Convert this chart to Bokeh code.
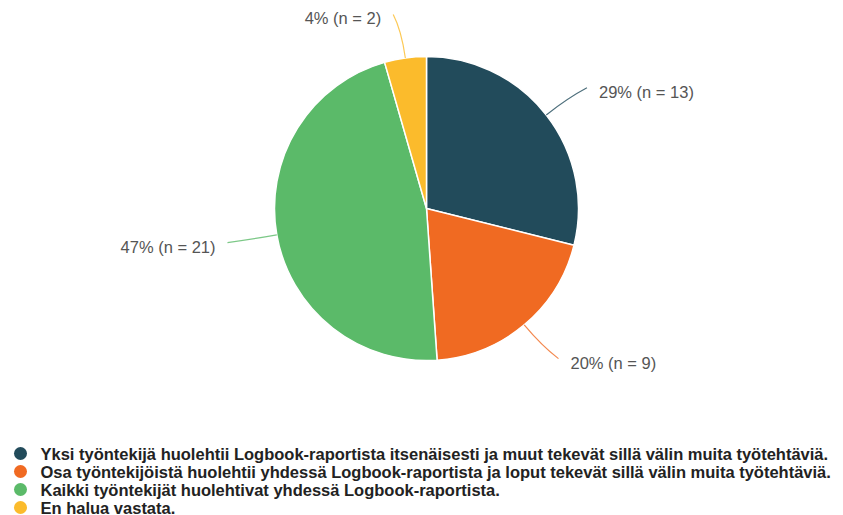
import math
from bokeh.plotting import figure
from bokeh.models import Range1d
from bokeh.core.properties import value
from bokeh.embed import file_html
from bokeh.resources import INLINE

# Survey answers: who takes care of the Logbook report
categories = [
    "Yksi työntekijä huolehtii Logbook-raportista itsenäisesti ja muut tekevät sillä välin muita työtehtäviä.",
    "Osa työntekijöistä huolehtii yhdessä Logbook-raportista ja loput tekevät sillä välin muita työtehtäviä.",
    "Kaikki työntekijät huolehtivat yhdessä Logbook-raportista.",
    "En halua vastata.",
]
counts = [13, 9, 21, 2]
colors = ["#224b5b", "#f06a22", "#5bba69", "#fbbb2c"]

W, H = 843, 515
CX, CY = 426, H - 208   # pie centre (y axis points up)
R = 152

p = figure(width=W, height=H, output_backend="svg", toolbar_location=None,
           x_range=Range1d(0, W), y_range=Range1d(0, H), min_border=0)
p.axis.visible = False
p.grid.visible = False
p.outline_line_color = None
p.background_fill_color = "white"
p.border_fill_color = "white"

total = sum(counts)
label_font = value("Liberation Sans")


def direction(theta_deg):
    # clockwise angle measured from 12 o'clock -> unit vector
    t = math.radians(theta_deg)
    return math.sin(t), math.cos(t)


cum = 0.0
for cat, n, col in zip(categories, counts, colors):
    frac = n / total
    a0 = 90 - 360 * (cum + frac)
    a1 = 90 - 360 * cum
    p.wedge(x=CX, y=CY, radius=R, start_angle=math.radians(a0),
            end_angle=math.radians(a1), fill_color=col,
            line_color="white", line_width=1.5)

    mid = 360 * (cum + frac / 2)
    dx, dy = direction(mid)
    side = 1 if dx >= 0 else -1
    x0, y0 = CX + R * dx, CY + R * dy
    xc, yc = CX + (R + 28) * dx, CY + (R + 28) * dy
    x1, y1 = CX + (R + 44) * dx + 6 * side, CY + (R + 44) * dy
    p.quadratic(x0=[x0], y0=[y0], x1=[x1], y1=[y1], cx=[xc], cy=[yc],
                line_color=col, line_width=1.2, line_alpha=0.8)

    pct = round(100 * frac)
    p.text(x=[x1 + 12 * side], y=[y1 - 4],
           text=[f"{pct}% (n = {n})"],
           text_align="left" if side > 0 else "right",
           text_baseline="middle", text_font=label_font,
           text_font_size="16.5px", text_color="#555555")
    cum += frac

# Legend rows below the pie
leg_x = 20
leg_y = [H - 453, H - 471, H - 489, H - 507]
p.scatter(x=[leg_x] * len(categories), y=leg_y, size=13,
          fill_color=colors, line_color=None)
p.text(x=[leg_x + 20] * len(categories), y=leg_y, text=categories,
       text_baseline="middle", text_align="left",
       text_font=label_font, text_font_size="16.5px",
       text_font_style="bold", text_color="#222222")

open("out.html", "w").write(file_html(p, INLINE))
